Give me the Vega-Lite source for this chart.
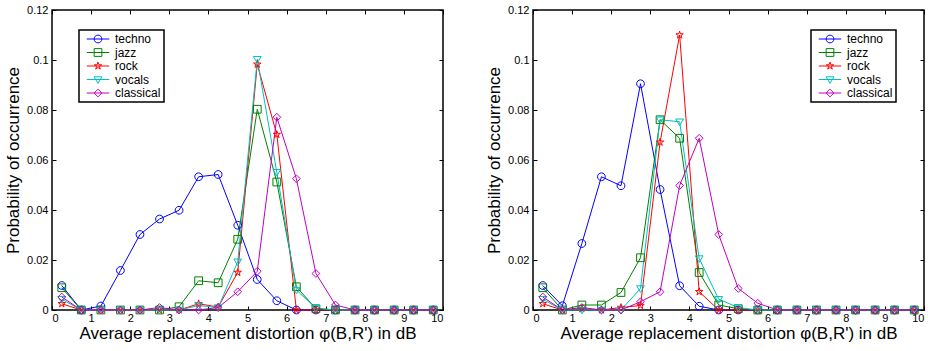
{
  "$schema": "https://vega.github.io/schema/vega-lite/v6.json",
  "padding": {"left": 3, "top": 3, "right": 4, "bottom": 4},
  "config": {
    "font": "Liberation Sans",
    "view": {"stroke": "black", "strokeWidth": 1.5},
    "axis": {"labelFontSize": 11, "labelColor": "black", "titleFontSize": 17, "titleFontWeight": "normal", "titleColor": "black", "tickColor": "black", "tickWidth": 1, "domain": false, "grid": false},
    "legend": {"strokeColor": "black", "strokeWidth": 1.5}
  },
  "datasets": {
    "left": [
      {"x":0.25,"g":"techno","p":0.0098},{"x":0.75,"g":"techno","p":0},{"x":1.25,"g":"techno","p":0.0016},{"x":1.75,"g":"techno","p":0.0158},{"x":2.25,"g":"techno","p":0.0302},{"x":2.75,"g":"techno","p":0.0364},{"x":3.25,"g":"techno","p":0.0399},{"x":3.75,"g":"techno","p":0.0533},{"x":4.25,"g":"techno","p":0.0542},{"x":4.75,"g":"techno","p":0.0339},{"x":5.25,"g":"techno","p":0.0122},{"x":5.75,"g":"techno","p":0.0037},{"x":6.25,"g":"techno","p":0},{"x":6.75,"g":"techno","p":0},{"x":7.25,"g":"techno","p":0},{"x":7.75,"g":"techno","p":0},{"x":8.25,"g":"techno","p":0},{"x":8.75,"g":"techno","p":0},{"x":9.25,"g":"techno","p":0},{"x":9.75,"g":"techno","p":0},
      {"x":0.25,"g":"jazz","p":0.0089},{"x":0.75,"g":"jazz","p":0},{"x":1.25,"g":"jazz","p":0},{"x":1.75,"g":"jazz","p":0},{"x":2.25,"g":"jazz","p":0},{"x":2.75,"g":"jazz","p":0},{"x":3.25,"g":"jazz","p":0.0013},{"x":3.75,"g":"jazz","p":0.0117},{"x":4.25,"g":"jazz","p":0.0109},{"x":4.75,"g":"jazz","p":0.0283},{"x":5.25,"g":"jazz","p":0.0803},{"x":5.75,"g":"jazz","p":0.0512},{"x":6.25,"g":"jazz","p":0.0093},{"x":6.75,"g":"jazz","p":0.0005},{"x":7.25,"g":"jazz","p":0},{"x":7.75,"g":"jazz","p":0},{"x":8.25,"g":"jazz","p":0},{"x":8.75,"g":"jazz","p":0},{"x":9.25,"g":"jazz","p":0},{"x":9.75,"g":"jazz","p":0},
      {"x":0.25,"g":"rock","p":0.0025},{"x":0.75,"g":"rock","p":0},{"x":1.25,"g":"rock","p":0},{"x":1.75,"g":"rock","p":0},{"x":2.25,"g":"rock","p":0},{"x":2.75,"g":"rock","p":0},{"x":3.25,"g":"rock","p":0},{"x":3.75,"g":"rock","p":0.0025},{"x":4.25,"g":"rock","p":0.0012},{"x":4.75,"g":"rock","p":0.015},{"x":5.25,"g":"rock","p":0.0983},{"x":5.75,"g":"rock","p":0.0702},{"x":6.25,"g":"rock","p":0},{"x":6.75,"g":"rock","p":0},{"x":7.25,"g":"rock","p":0},{"x":7.75,"g":"rock","p":0},{"x":8.25,"g":"rock","p":0},{"x":8.75,"g":"rock","p":0},{"x":9.25,"g":"rock","p":0},{"x":9.75,"g":"rock","p":0},
      {"x":0.25,"g":"vocals","p":0.0043},{"x":0.75,"g":"vocals","p":0},{"x":1.25,"g":"vocals","p":0},{"x":1.75,"g":"vocals","p":0},{"x":2.25,"g":"vocals","p":0},{"x":2.75,"g":"vocals","p":0},{"x":3.25,"g":"vocals","p":0},{"x":3.75,"g":"vocals","p":0.0018},{"x":4.25,"g":"vocals","p":0.001},{"x":4.75,"g":"vocals","p":0.0193},{"x":5.25,"g":"vocals","p":0.1003},{"x":5.75,"g":"vocals","p":0.0551},{"x":6.25,"g":"vocals","p":0.008},{"x":6.75,"g":"vocals","p":0.0008},{"x":7.25,"g":"vocals","p":0},{"x":7.75,"g":"vocals","p":0},{"x":8.25,"g":"vocals","p":0},{"x":8.75,"g":"vocals","p":0},{"x":9.25,"g":"vocals","p":0},{"x":9.75,"g":"vocals","p":0},
      {"x":0.25,"g":"classical","p":0.0052},{"x":0.75,"g":"classical","p":0},{"x":1.25,"g":"classical","p":0},{"x":1.75,"g":"classical","p":0},{"x":2.25,"g":"classical","p":0},{"x":2.75,"g":"classical","p":0.001},{"x":3.25,"g":"classical","p":0},{"x":3.75,"g":"classical","p":0},{"x":4.25,"g":"classical","p":0.001},{"x":4.75,"g":"classical","p":0.0073},{"x":5.25,"g":"classical","p":0.0155},{"x":5.75,"g":"classical","p":0.0771},{"x":6.25,"g":"classical","p":0.0525},{"x":6.75,"g":"classical","p":0.0146},{"x":7.25,"g":"classical","p":0.002},{"x":7.75,"g":"classical","p":0},{"x":8.25,"g":"classical","p":0},{"x":8.75,"g":"classical","p":0},{"x":9.25,"g":"classical","p":0},{"x":9.75,"g":"classical","p":0}
    ],
    "right": [
      {"x":0.25,"g":"techno","p":0.0098},{"x":0.75,"g":"techno","p":0.0017},{"x":1.25,"g":"techno","p":0.0266},{"x":1.75,"g":"techno","p":0.0533},{"x":2.25,"g":"techno","p":0.0497},{"x":2.75,"g":"techno","p":0.0905},{"x":3.25,"g":"techno","p":0.0482},{"x":3.75,"g":"techno","p":0.0097},{"x":4.25,"g":"techno","p":0.0015},{"x":4.75,"g":"techno","p":0},{"x":5.25,"g":"techno","p":0},{"x":5.75,"g":"techno","p":0},{"x":6.25,"g":"techno","p":0},{"x":6.75,"g":"techno","p":0},{"x":7.25,"g":"techno","p":0},{"x":7.75,"g":"techno","p":0},{"x":8.25,"g":"techno","p":0},{"x":8.75,"g":"techno","p":0},{"x":9.25,"g":"techno","p":0},{"x":9.75,"g":"techno","p":0},
      {"x":0.25,"g":"jazz","p":0.0089},{"x":0.75,"g":"jazz","p":0},{"x":1.25,"g":"jazz","p":0.002},{"x":1.75,"g":"jazz","p":0.002},{"x":2.25,"g":"jazz","p":0.007},{"x":2.75,"g":"jazz","p":0.0209},{"x":3.25,"g":"jazz","p":0.0761},{"x":3.75,"g":"jazz","p":0.0687},{"x":4.25,"g":"jazz","p":0.015},{"x":4.75,"g":"jazz","p":0.002},{"x":5.25,"g":"jazz","p":0.0005},{"x":5.75,"g":"jazz","p":0},{"x":6.25,"g":"jazz","p":0},{"x":6.75,"g":"jazz","p":0},{"x":7.25,"g":"jazz","p":0},{"x":7.75,"g":"jazz","p":0},{"x":8.25,"g":"jazz","p":0},{"x":8.75,"g":"jazz","p":0},{"x":9.25,"g":"jazz","p":0},{"x":9.75,"g":"jazz","p":0},
      {"x":0.25,"g":"rock","p":0.0025},{"x":0.75,"g":"rock","p":0},{"x":1.25,"g":"rock","p":0.0005},{"x":1.75,"g":"rock","p":0},{"x":2.25,"g":"rock","p":0.001},{"x":2.75,"g":"rock","p":0.0018},{"x":3.25,"g":"rock","p":0.0671},{"x":3.75,"g":"rock","p":0.110},{"x":4.25,"g":"rock","p":0.0073},{"x":4.75,"g":"rock","p":0},{"x":5.25,"g":"rock","p":0},{"x":5.75,"g":"rock","p":0},{"x":6.25,"g":"rock","p":0},{"x":6.75,"g":"rock","p":0},{"x":7.25,"g":"rock","p":0},{"x":7.75,"g":"rock","p":0},{"x":8.25,"g":"rock","p":0},{"x":8.75,"g":"rock","p":0},{"x":9.25,"g":"rock","p":0},{"x":9.75,"g":"rock","p":0},
      {"x":0.25,"g":"vocals","p":0.0043},{"x":0.75,"g":"vocals","p":0},{"x":1.25,"g":"vocals","p":0},{"x":1.75,"g":"vocals","p":0},{"x":2.25,"g":"vocals","p":0},{"x":2.75,"g":"vocals","p":0.0086},{"x":3.25,"g":"vocals","p":0.0761},{"x":3.75,"g":"vocals","p":0.0753},{"x":4.25,"g":"vocals","p":0.0206},{"x":4.75,"g":"vocals","p":0.0043},{"x":5.25,"g":"vocals","p":0.001},{"x":5.75,"g":"vocals","p":0},{"x":6.25,"g":"vocals","p":0},{"x":6.75,"g":"vocals","p":0},{"x":7.25,"g":"vocals","p":0},{"x":7.75,"g":"vocals","p":0},{"x":8.25,"g":"vocals","p":0},{"x":8.75,"g":"vocals","p":0},{"x":9.25,"g":"vocals","p":0},{"x":9.75,"g":"vocals","p":0},
      {"x":0.25,"g":"classical","p":0.0052},{"x":0.75,"g":"classical","p":0},{"x":1.25,"g":"classical","p":0.001},{"x":1.75,"g":"classical","p":0},{"x":2.25,"g":"classical","p":0},{"x":2.75,"g":"classical","p":0.0033},{"x":3.25,"g":"classical","p":0.0073},{"x":3.75,"g":"classical","p":0.0498},{"x":4.25,"g":"classical","p":0.0687},{"x":4.75,"g":"classical","p":0.0302},{"x":5.25,"g":"classical","p":0.0086},{"x":5.75,"g":"classical","p":0.0027},{"x":6.25,"g":"classical","p":0},{"x":6.75,"g":"classical","p":0},{"x":7.25,"g":"classical","p":0},{"x":7.75,"g":"classical","p":0},{"x":8.25,"g":"classical","p":0},{"x":8.75,"g":"classical","p":0},{"x":9.25,"g":"classical","p":0},{"x":9.75,"g":"classical","p":0}
    ]
  },
  "spacing": 39,
  "resolve": {"scale": {"color": "independent", "stroke": "independent", "shape": "independent"}, "legend": {"color": "independent"}},
  "hconcat": [
    {
      "width": 391, "height": 300,
      "data": {"name": "left"},
      "layer": [
        {
          "mark": {"type": "line", "strokeWidth": 1},
          "encoding": {
            "x": {"field": "x", "type": "quantitative", "scale": {"domain": [0, 10], "nice": false}, "axis": {"orient": "bottom", "values": [0,1,2,3,4,5,6,7,8,9,10], "format": "d", "title": "Average replacement distortion φ(B,R') in dB", "tickSize": -4, "labelPadding": 6, "titlePadding": 2}},
            "y": {"field": "p", "type": "quantitative", "scale": {"domain": [0, 0.12], "nice": false}, "axis": {"orient": "left", "values": [0,0.02,0.04,0.06,0.08,0.1,0.12], "format": ".2~f", "title": "Probability of occurrence", "tickSize": -4, "labelPadding": 8, "titlePadding": 4}},
            "stroke": {"field": "g", "type": "nominal", "scale": {"domain": ["classical","vocals","rock","jazz","techno"], "range": ["#BF00BF","#00BFBF","#FF0000","#008000","#0000FF"]}, "legend": null}
          }
        },
        {
          "mark": {"type": "point", "filled": false, "size": 60, "strokeWidth": 1, "opacity": 1},
          "encoding": {
            "x": {"field": "x", "type": "quantitative", "axis": {"orient": "top", "values": [0,1,2,3,4,5,6,7,8,9,10], "labels": false, "title": null, "tickSize": -4}},
            "y": {"field": "p", "type": "quantitative", "axis": {"orient": "right", "values": [0,0.02,0.04,0.06,0.08,0.1,0.12], "labels": false, "title": null, "tickSize": -4}},
            "color": {"field": "g", "type": "nominal", "scale": {"domain": ["techno","jazz","rock","vocals","classical"], "range": ["#0000FF","#008000","#FF0000","#00BFBF","#BF00BF"]},
              "legend": {"orient": "none", "legendX": 27, "legendY": 20, "title": null, "fillColor": "white", "strokeColor": "black", "padding": 3, "symbolSize": 60, "symbolStrokeWidth": 1, "symbolOffset": 10, "labelOffset": 11, "labelFontSize": 12, "labelColor": "black", "rowPadding": 1.5,
                "labelExpr": "datum.label + '\u00a0\u00a0\u00a0'",
                "symbolType": {"expr": "datum.value === 'techno' ? 'M-2.9,0H2.9M-1,0A1,1 0 1,0 1,0A1,1 0 1,0 -1,0Z' : datum.value === 'jazz' ? 'M-2.9,0H2.9M-1,-1H1V1H-1Z' : datum.value === 'rock' ? 'M-2.9,0H2.9M0,-1L0.2245,-0.309L0.951,-0.309L0.363,0.118L0.588,0.809L0,0.382L-0.588,0.809L-0.363,0.118L-0.951,-0.309L-0.2245,-0.309Z' : datum.value === 'vocals' ? 'M-2.9,0H2.9M-1,-0.7H1L0,1Z' : 'M-2.9,0H2.9M0,-1L1,0L0,1L-1,0Z'"}
              }},
            "shape": {"field": "g", "type": "nominal", "scale": {"domain": ["classical","vocals","rock","jazz","techno"], "range": ["M0,-1L1,0L0,1L-1,0Z","M-1,-0.7H1L0,1Z","M0,-1L0.2245,-0.309L0.951,-0.309L0.363,0.118L0.588,0.809L0,0.382L-0.588,0.809L-0.363,0.118L-0.951,-0.309L-0.2245,-0.309Z","M-1,-1H1V1H-1Z","M-1,0A1,1 0 1,0 1,0A1,1 0 1,0 -1,0Z"]}, "legend": null}
          }
        }
      ]
    },
    {
      "width": 391, "height": 300,
      "data": {"name": "right"},
      "layer": [
        {
          "mark": {"type": "line", "strokeWidth": 1},
          "encoding": {
            "x": {"field": "x", "type": "quantitative", "scale": {"domain": [0, 10], "nice": false}, "axis": {"orient": "bottom", "values": [0,1,2,3,4,5,6,7,8,9,10], "format": "d", "title": "Average replacement distortion φ(B,R') in dB", "tickSize": -4, "labelPadding": 6, "titlePadding": 2}},
            "y": {"field": "p", "type": "quantitative", "scale": {"domain": [0, 0.12], "nice": false}, "axis": {"orient": "left", "values": [0,0.02,0.04,0.06,0.08,0.1,0.12], "format": ".2~f", "title": "Probability of occurrence", "tickSize": -4, "labelPadding": 8, "titlePadding": 4}},
            "stroke": {"field": "g", "type": "nominal", "scale": {"domain": ["classical","vocals","rock","jazz","techno"], "range": ["#BF00BF","#00BFBF","#FF0000","#008000","#0000FF"]}, "legend": null}
          }
        },
        {
          "mark": {"type": "point", "filled": false, "size": 60, "strokeWidth": 1, "opacity": 1},
          "encoding": {
            "x": {"field": "x", "type": "quantitative", "axis": {"orient": "top", "values": [0,1,2,3,4,5,6,7,8,9,10], "labels": false, "title": null, "tickSize": -4}},
            "y": {"field": "p", "type": "quantitative", "axis": {"orient": "right", "values": [0,0.02,0.04,0.06,0.08,0.1,0.12], "labels": false, "title": null, "tickSize": -4}},
            "color": {"field": "g", "type": "nominal", "scale": {"domain": ["techno","jazz","rock","vocals","classical"], "range": ["#0000FF","#008000","#FF0000","#00BFBF","#BF00BF"]},
              "legend": {"orient": "none", "legendX": 278, "legendY": 20, "title": null, "fillColor": "white", "strokeColor": "black", "padding": 3, "symbolSize": 60, "symbolStrokeWidth": 1, "symbolOffset": 10, "labelOffset": 11, "labelFontSize": 12, "labelColor": "black", "rowPadding": 1.5,
                "labelExpr": "datum.label + '\u00a0\u00a0\u00a0'",
                "symbolType": {"expr": "datum.value === 'techno' ? 'M-2.9,0H2.9M-1,0A1,1 0 1,0 1,0A1,1 0 1,0 -1,0Z' : datum.value === 'jazz' ? 'M-2.9,0H2.9M-1,-1H1V1H-1Z' : datum.value === 'rock' ? 'M-2.9,0H2.9M0,-1L0.2245,-0.309L0.951,-0.309L0.363,0.118L0.588,0.809L0,0.382L-0.588,0.809L-0.363,0.118L-0.951,-0.309L-0.2245,-0.309Z' : datum.value === 'vocals' ? 'M-2.9,0H2.9M-1,-0.7H1L0,1Z' : 'M-2.9,0H2.9M0,-1L1,0L0,1L-1,0Z'"}
              }},
            "shape": {"field": "g", "type": "nominal", "scale": {"domain": ["classical","vocals","rock","jazz","techno"], "range": ["M0,-1L1,0L0,1L-1,0Z","M-1,-0.7H1L0,1Z","M0,-1L0.2245,-0.309L0.951,-0.309L0.363,0.118L0.588,0.809L0,0.382L-0.588,0.809L-0.363,0.118L-0.951,-0.309L-0.2245,-0.309Z","M-1,-1H1V1H-1Z","M-1,0A1,1 0 1,0 1,0A1,1 0 1,0 -1,0Z"]}, "legend": null}
          }
        }
      ]
    }
  ]
}
